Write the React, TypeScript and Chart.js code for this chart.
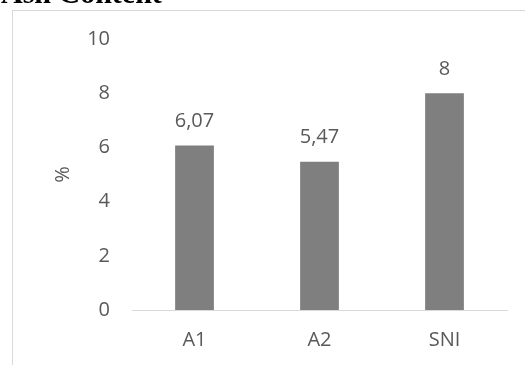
import React, { useEffect, useRef } from "react";
import { Chart, registerables } from "chart.js";

Chart.register(...registerables);

const categories = ["A1", "A2", "SNI"];
const ashValues = [6.07, 5.47, 8];
const yMin = 0;
const yMax = 10;
const yStep = 2;
const chartTitle = "Ash Content";
const yAxisTitle = "%";

const FONT = '"Open Sans", sans-serif';
const FS = 20;
const TEXT = "#595959";
const BAR = "#7f7f7f";
const LINE = "#d9d9d9";

export default function App() {
  const ref = useRef<HTMLCanvasElement>(null);

  useEffect(() => {
    if (!ref.current) return;
    const valueLabels = {
      id: "valueLabels",
      afterDatasetsDraw(chart: any) {
        const ctx = chart.ctx;
        const meta = chart.getDatasetMeta(0);
        ctx.save();
        ctx.font = `${FS}px ${FONT}`;
        ctx.fillStyle = TEXT;
        ctx.textAlign = "center";
        ctx.textBaseline = "alphabetic";
        meta.data.forEach((bar: any, i: number) => {
          const txt = String(ashValues[i]).replace(".", ",");
          ctx.fillText(txt, bar.x, bar.y - 18.5);
        });
        ctx.restore();
      },
    };
    const topTitle = {
      id: "topTitle",
      afterDraw(chart: any) {
        const ctx = chart.ctx;
        ctx.save();
        ctx.font = `bold 30px "Liberation Serif", "Times New Roman", serif`;
        ctx.fillStyle = "#000000";
        ctx.textAlign = "left";
        ctx.textBaseline = "alphabetic";
        ctx.fillText(chartTitle, 1, 3);
        ctx.restore();
      },
    };

    const chart = new Chart(ref.current, {
      type: "bar",
      data: {
        labels: categories,
        datasets: [
          {
            data: ashValues,
            backgroundColor: BAR,
            borderWidth: 0,
            barPercentage: 0.31,
            categoryPercentage: 1,
          },
        ],
      },
      options: {
        responsive: false,
        animation: false,
        layout: { padding: { left: 0, right: 18, top: 39, bottom: 0 } },
        plugins: {
          legend: { display: false },
          tooltip: { enabled: false },
          title: { display: false },
        },
        scales: {
          x: {
            grid: { display: false, drawTicks: false },
            border: { display: true, color: LINE, width: 1 },
            ticks: { color: TEXT, font: { family: FONT, size: FS }, padding: 18 },
            afterFit(s: any) {
              s.height = 55;
            },
          },
          y: {
            min: yMin,
            max: yMax,
            ticks: { stepSize: yStep, color: TEXT, font: { family: FONT, size: FS }, padding: 22 },
            grid: { display: false, drawTicks: false },
            border: { display: false },
            title: {
              display: true,
              text: yAxisTitle,
              color: TEXT,
              font: { family: FONT, size: FS },
              padding: { top: 51, bottom: 0 },
            },
            afterFit(s: any) {
              s.width = 132;
            },
          },
        },
      },
      plugins: [valueLabels, topTitle],
    });
    return () => chart.destroy();
  }, []);

  return (
    <div
      style={{
        position: "fixed",
        left: 0,
        top: 0,
        width: 525,
        height: 365,
        overflow: "hidden",
        background: "#ffffff",
      }}
    >
      <div
        style={{
          position: "absolute",
          left: 12,
          top: 10,
          width: 700,
          height: 500,
          border: `1px solid ${LINE}`,
          boxSizing: "border-box",
        }}
      />
      <canvas ref={ref} width={525} height={365} style={{ position: "absolute", left: 0, top: 0 }} />
    </div>
  );
}
